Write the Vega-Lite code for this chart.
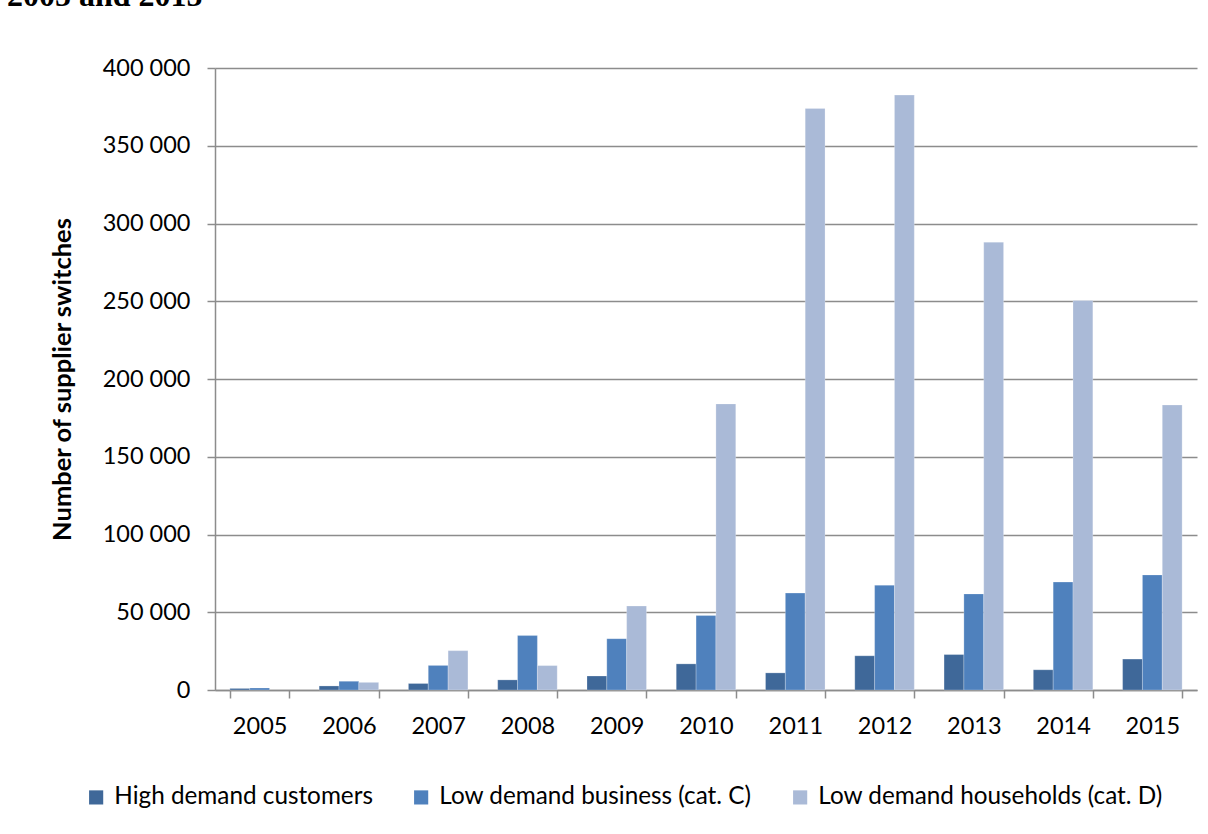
{
  "$schema": "https://vega.github.io/schema/vega-lite/v6.json",
  "width": 982,
  "height": 622,
  "autosize": {"type": "none"},
  "padding": {"left": 215, "top": 68, "right": 11, "bottom": 144},
  "background": "#ffffff",
  "config": {
    "locale": {"number": {"decimal": ".", "thousands": " ", "grouping": [3], "currency": ["", ""]}},
    "view": {"stroke": null},
    "font": "Lato"
  },
  "title": {
    "text": "2005 and 2015",
    "font": "Liberation Serif",
    "fontSize": 32,
    "fontWeight": "bold",
    "color": "#000000",
    "anchor": "start",
    "frame": "group",
    "orient": "top",
    "baseline": "alphabetic",
    "offset": 0,
    "dx": -208,
    "dy": -18
  },
  "data": {
    "values": [
      {"year": "2005", "series": "High demand customers", "value": 1000},
      {"year": "2005", "series": "Low demand business (cat. C)", "value": 1300},
      {"year": "2006", "series": "High demand customers", "value": 2600},
      {"year": "2006", "series": "Low demand business (cat. C)", "value": 5600},
      {"year": "2006", "series": "Low demand households (cat. D)", "value": 4900},
      {"year": "2007", "series": "High demand customers", "value": 4200},
      {"year": "2007", "series": "Low demand business (cat. C)", "value": 15800},
      {"year": "2007", "series": "Low demand households (cat. D)", "value": 25300},
      {"year": "2008", "series": "High demand customers", "value": 6500},
      {"year": "2008", "series": "Low demand business (cat. C)", "value": 35000},
      {"year": "2008", "series": "Low demand households (cat. D)", "value": 15700},
      {"year": "2009", "series": "High demand customers", "value": 9000},
      {"year": "2009", "series": "Low demand business (cat. C)", "value": 33000},
      {"year": "2009", "series": "Low demand households (cat. D)", "value": 54000},
      {"year": "2010", "series": "High demand customers", "value": 16800},
      {"year": "2010", "series": "Low demand business (cat. C)", "value": 47900},
      {"year": "2010", "series": "Low demand households (cat. D)", "value": 184000},
      {"year": "2011", "series": "High demand customers", "value": 11000},
      {"year": "2011", "series": "Low demand business (cat. C)", "value": 62300},
      {"year": "2011", "series": "Low demand households (cat. D)", "value": 374000},
      {"year": "2012", "series": "High demand customers", "value": 22000},
      {"year": "2012", "series": "Low demand business (cat. C)", "value": 67400},
      {"year": "2012", "series": "Low demand households (cat. D)", "value": 382600},
      {"year": "2013", "series": "High demand customers", "value": 22800},
      {"year": "2013", "series": "Low demand business (cat. C)", "value": 61800},
      {"year": "2013", "series": "Low demand households (cat. D)", "value": 288000},
      {"year": "2014", "series": "High demand customers", "value": 13000},
      {"year": "2014", "series": "Low demand business (cat. C)", "value": 69400},
      {"year": "2014", "series": "Low demand households (cat. D)", "value": 250500},
      {"year": "2015", "series": "High demand customers", "value": 19900},
      {"year": "2015", "series": "Low demand business (cat. C)", "value": 74000},
      {"year": "2015", "series": "Low demand households (cat. D)", "value": 183300}
    ]
  },
  "mark": {"type": "bar", "stroke": "#ffffff", "strokeWidth": 0.4, "strokeOpacity": 0.6},
  "encoding": {
    "x": {
      "field": "year",
      "type": "nominal",
      "sort": null,
      "scale": {"paddingInner": 0.3333, "paddingOuter": 0.1667},
      "axis": {
        "title": null,
        "labelAngle": 0,
        "labelFont": "Lato",
        "labelFontSize": 23.5,
        "labelColor": "#000000",
        "labelPadding": 16,
        "labelBaseline": "top",
        "tickBand": "extent",
        "tickSize": 8,
        "tickColor": "#8c8c8c",
        "tickWidth": 1.5,
        "domainColor": "#8c8c8c",
        "domainWidth": 1.5,
        "grid": false
      }
    },
    "xOffset": {
      "field": "series",
      "type": "nominal",
      "sort": ["High demand customers", "Low demand business (cat. C)", "Low demand households (cat. D)"],
      "scale": {"paddingInner": 0, "paddingOuter": 0}
    },
    "y": {
      "field": "value",
      "type": "quantitative",
      "scale": {"domain": [0, 400000], "nice": false},
      "axis": {
        "title": "Number of supplier switches",
        "titleFont": "Lato",
        "titleFontSize": 25.5,
        "titleFontWeight": "bold",
        "titleColor": "#000000",
        "titlePadding": 27,
        "format": ",d",
        "values": [0, 50000, 100000, 150000, 200000, 250000, 300000, 350000, 400000],
        "labelFont": "Lato",
        "labelFontSize": 23.5,
        "labelColor": "#000000",
        "labelPadding": 17,
        "tickSize": 8,
        "tickColor": "#8c8c8c",
        "tickWidth": 1.5,
        "domainColor": "#8c8c8c",
        "domainWidth": 1.5,
        "grid": true,
        "gridColor": "#8c8c8c",
        "gridWidth": 1.5
      }
    },
    "color": {
      "field": "series",
      "type": "nominal",
      "sort": ["High demand customers", "Low demand business (cat. C)", "Low demand households (cat. D)"],
      "scale": {
        "domain": ["High demand customers", "Low demand business (cat. C)", "Low demand households (cat. D)"],
        "range": ["#3f6899", "#4f81bd", "#aabad7"]
      },
      "legend": {
        "title": null,
        "orient": "none",
        "direction": "horizontal",
        "legendX": -131,
        "legendY": 717,
        "padding": 0,
        "symbolType": "square",
        "symbolSize": 200,
        "symbolStrokeWidth": 0,
        "labelFont": "Lato",
        "labelFontSize": 24.3,
        "labelColor": "#000000",
        "labelOffset": 6,
        "columnPadding": 36,
        "labelLimit": 500
      }
    }
  }
}
